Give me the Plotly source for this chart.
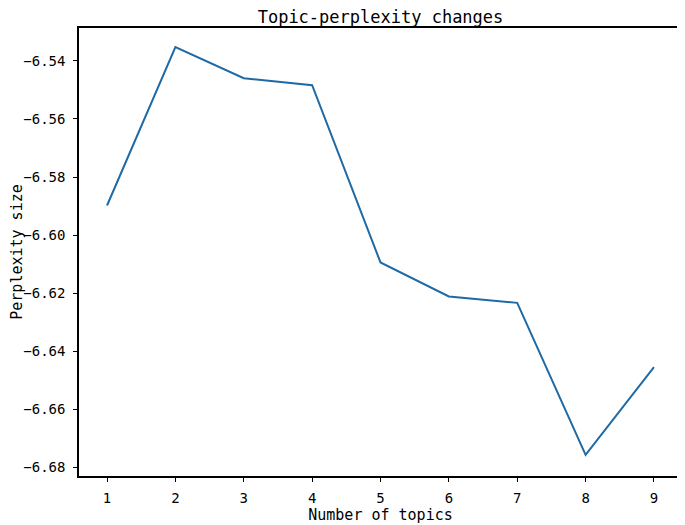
import plotly.graph_objects as go

topics = [1, 2, 3, 4, 5, 6, 7, 8, 9]
perplexity = [-6.5898, -6.5353, -6.5460, -6.5484, -6.6094, -6.6211, -6.6233, -6.6756, -6.6454]
y_ticks = [-6.54, -6.56, -6.58, -6.60, -6.62, -6.64, -6.66, -6.68]
y_tick_labels = ["−6.54", "−6.56", "−6.58", "−6.60", "−6.62", "−6.64", "−6.66", "−6.68"]

FONT = "DejaVu Sans Mono"

fig = go.Figure()
fig.add_trace(go.Scatter(x=topics, y=perplexity, mode="lines",
                         line=dict(color="#1f6aa5", width=2), showlegend=False))

axis_common = dict(showline=True, linecolor="black", linewidth=1.5, mirror=True,
                   ticks="outside", ticklen=4, tickwidth=1, tickcolor="black",
                   showgrid=False, zeroline=False, automargin=False,
                   tickfont=dict(family=FONT, size=14, color="black"))

# page body has an 8px default margin, so the figure is sized to fill the rest
fig.update_layout(
    width=677, height=517,
    margin=dict(l=71, r=3, t=20, b=49),
    paper_bgcolor="white", plot_bgcolor="white",
    title=dict(text="Topic-perplexity changes", x=0.5, xanchor="center",
               xref="paper", y=1, yref="paper", yanchor="bottom", pad=dict(b=5),
               automargin=False,
               font=dict(family=FONT, size=17, color="black")),
    xaxis=dict(range=[0.59, 9.41], tickvals=topics,
               title=dict(text="Number of topics", font=dict(family=FONT, size=15, color="black"), standoff=2),
               ticklabelstandoff=4,
               **axis_common),
    yaxis=dict(range=[-6.6829, -6.5287], tickvals=y_ticks, ticktext=y_tick_labels,
               title=dict(text="Perplexity size", font=dict(family=FONT, size=15, color="black"), standoff=12),
               ticklabelstandoff=5,
               **axis_common),
)

fig.write_html("out.html")
